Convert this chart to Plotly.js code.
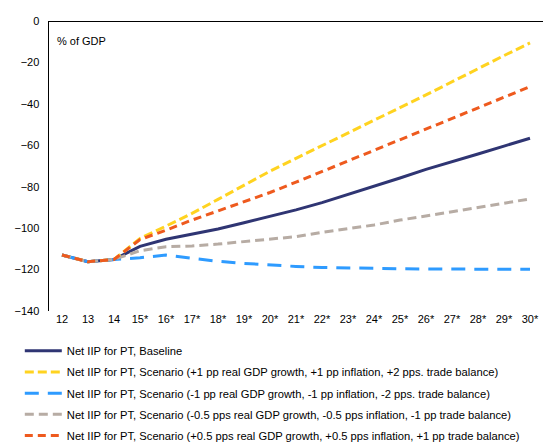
<!DOCTYPE html>
<html><head><meta charset="utf-8">
<script src="https://cdn.plot.ly/plotly-3.0.1.min.js"></script>
<style>html,body{margin:0;padding:0;background:#fff}#c{width:550px;height:443px}</style>
</head><body><div id="c"></div>
<script>
const years = ["12","13","14","15*","16*","17*","18*","19*","20*","21*","22*","23*","24*","25*","26*","27*","28*","29*","30*"];
const baseline = [-113,-116.2,-115.1,-108.8,-105.4,-102.8,-100.4,-97.4,-94.3,-91.2,-87.7,-83.8,-79.8,-75.8,-71.6,-68,-64.2,-60.4,-56.6];
const scenUp2 = [-113,-116.2,-115.1,-105,-99,-92.9,-86.1,-79.2,-72.5,-66.3,-60.1,-54,-47.9,-41.8,-35.7,-29.3,-23,-16.7,-10.6];
const scenDown2 = [-113,-116.2,-115.1,-114.3,-113,-114.5,-116,-117,-117.8,-118.5,-119,-119.3,-119.5,-119.6,-119.7,-119.8,-119.8,-119.9,-119.9];
const scenDown1 = [-113,-116.2,-115.1,-110.9,-109,-108.6,-107.7,-106.5,-105.4,-104.1,-102,-100.1,-98.5,-96.1,-94.2,-92.1,-90,-88,-85.9];
const scenUp1 = [-113,-116.2,-115.1,-105.5,-101,-96.1,-91.7,-87.2,-82.8,-77.8,-72.7,-67.6,-62.4,-57.2,-52,-46.9,-41.8,-36.7,-31.7];
const names = [
 "Net IIP for PT, Baseline",
 "Net IIP for PT, Scenario (+1 pp real GDP growth, +1 pp inflation, +2 pps. trade balance)",
 "Net IIP for PT, Scenario (-1 pp real GDP growth, -1 pp inflation, -2 pps. trade balance)",
 "Net IIP for PT, Scenario (-0.5 pps real GDP growth, -0.5 pps inflation, -1 pp trade balance)",
 "Net IIP for PT, Scenario (+0.5 pps real GDP growth, +0.5 pps inflation, +1 pp trade balance)"
];
const series = [baseline, scenUp2, scenDown2, scenDown1, scenUp1];
const colors = ["#2F3573","#FFD320","#2E9BFF","#B7ACA4","#EE5A1E"];
const dashes = ["solid","9px,4px","14px,9px","9px,5px","8px,5px"];
const traces = series.map((s,i)=>({
  x: years, y: s, type:'scatter', mode:'lines', name: names[i],
  legendgroup: 'g'+i, legendrank: i+1,
  line:{color:colors[i], width:3, dash:dashes[i]}
}));
const layout = {
  width:550, height:443,
  margin:{l:49, r:7, t:21, b:132, autoexpand:false},
  paper_bgcolor:'#fff', plot_bgcolor:'#fff',
  font:{family:'"Liberation Sans", Arial, sans-serif', size:11, color:'#000'},
  showlegend:true,
  legend:{xref:'container', yref:'container', x:0.036, y:0.241, xanchor:'left', yanchor:'top',
    orientation:'v', tracegroupgap:2.2, itemwidth:37, font:{size:11.2}, bgcolor:'rgba(0,0,0,0)'},
  xaxis:{type:'category', range:[-0.5,18.5], showgrid:false, zeroline:false, showline:false,
    ticks:'', tickfont:{size:11}, tickangle:0, fixedrange:true},
  yaxis:{range:[-140,0], dtick:20, tick0:0, showgrid:false, zeroline:false,
    showline:true, linecolor:'#000', linewidth:1.5, ticks:'', ticklabelstandoff:6, tickfont:{size:11}},
  shapes:[{type:'line', xref:'paper', yref:'y', x0:0, x1:1, y0:0, y1:0, line:{color:'#000', width:2}, layer:'above'}],
  annotations:[{text:'% of GDP', xref:'paper', yref:'paper', x:0.012, y:0.93, xanchor:'left', yanchor:'middle',
    showarrow:false, font:{size:11}}]
};
Plotly.newPlot('c', traces, layout, {displayModeBar:false, staticPlot:true});
</script></body></html>
